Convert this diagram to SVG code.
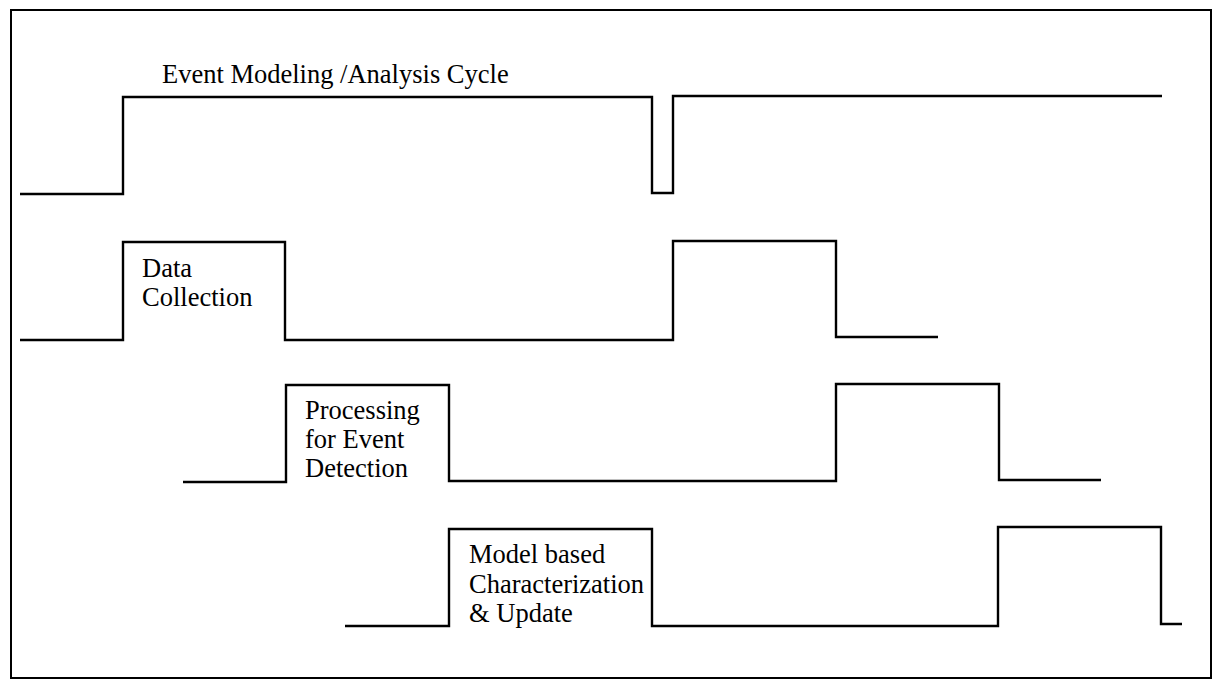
<svg xmlns="http://www.w3.org/2000/svg" width="1218" height="679" viewBox="0 0 1218 679">
<style>
.frame{fill:none;stroke:#000;stroke-width:2}
.wave{fill:none;stroke:#000;stroke-width:2.4;stroke-linejoin:miter;stroke-linecap:butt}
.lbl{font-family:"Liberation Serif","Times New Roman",serif;font-size:26.5px;fill:#000}
</style>
<rect x="0" y="0" width="1218" height="679" fill="#fff"/>
<rect id="frame" class="frame" x="11" y="10" width="1200" height="668"/>
<g id="cycle">
<path class="wave" d="M20 194 H123 V97 H652 V193 H673 V96 H1162"/>
<text class="lbl" x="162" y="83">Event Modeling /Analysis Cycle</text>
</g>
<g id="data-collection">
<path class="wave" d="M20 340 H123 V242 H285 V340 H673 V241 H836 V337 H938"/>
<text class="lbl" x="142" y="277">Data</text>
<text class="lbl" x="142" y="306">Collection</text>
</g>
<g id="processing">
<path class="wave" d="M183 482 H286 V385 H449 V481 H836 V384 H999 V480 H1101"/>
<text class="lbl" x="305" y="419">Processing</text>
<text class="lbl" x="305" y="448">for Event</text>
<text class="lbl" x="305" y="477">Detection</text>
</g>
<g id="model-update">
<path class="wave" d="M345 626 H449 V529 H652 V626 H998 V527 H1161 V624 H1182"/>
<text class="lbl" x="469" y="563">Model based</text>
<text class="lbl" x="469" y="593">Characterization</text>
<text class="lbl" x="469" y="622">&amp; Update</text>
</g>
<g id="connectors"/>
</svg>
